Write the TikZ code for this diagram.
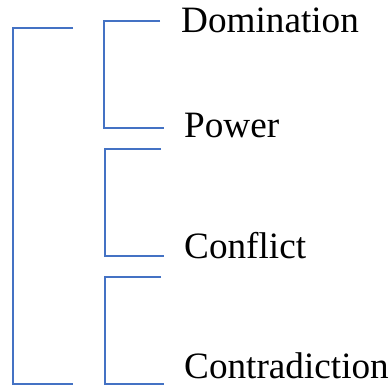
\documentclass[tikz,border=0pt]{standalone}
\usepackage{fontspec}
\setmainfont{Liberation Serif}
\definecolor{linkblue}{RGB}{68,114,196}
\tikzset{bracket/.style={draw=linkblue, line width=1.5pt},
  term/.style={anchor=base west, inner sep=0pt, font=\fontsize{37.2}{40}\selectfont}}

\begin{document}
\begin{tikzpicture}[x=1pt,y=-1pt]
  \useasboundingbox (0,0) rectangle (391,385);
  % terms
  \node[term] (dom) at (181,33) {Domination};
  \node[term] (pow) at (184,138) {Power};
  \node[term] (con) at (184,258) {Conflict};
  \node[term] (contra) at (184,378) {Contradiction};
  % bracket ends
  \coordinate (otop) at (73,28);
  \coordinate (obot) at (73,384);
  \coordinate (top1) at (160,21);
  \coordinate (bot1) at (164,128);
  \coordinate (top2) at (161,149);
  \coordinate (bot2) at (164,256);
  \coordinate (top3) at (161,277);
  \coordinate (bot3) at (164,384);
  % outer bracket
  \draw[bracket] (otop) -- ++(-60,0) |- (obot);
  % inner brackets
  \draw[bracket] (top1) -- ++(-56,0) |- (bot1);
  \draw[bracket] (top2) -- ++(-56,0) |- (bot2);
  \draw[bracket] (top3) -- ++(-56,0) |- (bot3);
\end{tikzpicture}
\end{document}
